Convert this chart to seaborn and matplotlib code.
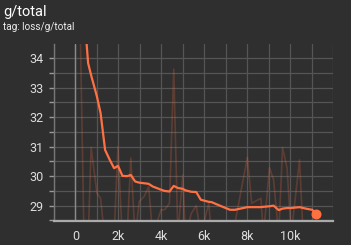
import matplotlib
matplotlib.use("Agg")
import matplotlib.pyplot as plt
import seaborn as sns
import numpy as np
import pandas as pd
from matplotlib.ticker import MultipleLocator, FuncFormatter

# ---- data ----
steps = [100, 400, 590, 730, 1000, 1170, 1380, 1600, 1800, 1980, 2190, 2400, 2580,
         2780, 2970, 3200, 3410, 3600, 3990, 4150, 4380, 4580, 4770, 5000, 5120,
         5400, 5630, 5840, 6210, 6340, 6730, 7200, 7430, 8010, 8210, 8640, 8760,
         9040, 9230, 9470, 9650, 9860, 10050, 10440, 10610, 10800, 11030, 11230]
raw = [40.0, 27.8, 27.8, 30.98, 29.42, 29.25, 27.8, 27.8, 28.0, 31.0, 27.8, 27.9, 30.61,
       27.9, 29.14, 29.31, 29.65, 28.0, 28.86, 28.86, 29.08, 33.63, 28.0, 30.04, 28.0,
       28.74, 29.0, 28.0, 29.08, 28.0, 28.0, 28.2, 28.4, 30.64, 29.08, 29.25, 28.0,
       30.29, 29.88, 28.0, 30.97, 30.27, 28.0, 30.55, 28.0, 28.3, 28.3, 28.2]
smooth = [40.0, 35.6, 33.83, 33.42, 32.7, 32.14, 30.89, 30.55, 30.27, 30.35, 30.01, 30.0, 30.04,
          29.82, 29.78, 29.76, 29.74, 29.65, 29.54, 29.5, 29.48, 29.67, 29.6, 29.57, 29.52,
          29.47, 29.46, 29.2, 29.13, 29.12, 29.0, 28.86, 28.86, 28.95, 28.95, 28.95, 28.96,
          28.98, 29.0, 28.85, 28.9, 28.92, 28.92, 28.95, 28.92, 28.89, 28.86, 28.72]

x_major = [0, 2000, 4000, 6000, 8000, 10000]
y_major = [29, 30, 31, 32, 33, 34]

df = pd.DataFrame({"step": steps, "raw": raw, "smooth": smooth})

BG = "#2f2f2f"
ORANGE = "#ff7043"

sns.set_theme(style="dark")
plt.rcParams["font.family"] = ["Roboto", "DejaVu Sans"]

fig = plt.figure(figsize=(3.51, 2.45), dpi=100, facecolor=BG)
ax = fig.add_axes([54/351, 24/245, (333-54)/351, (221-44)/245])
ax.set_facecolor(BG)

ax.set_xlim(-1000, 12000)
ax.set_ylim(28.48, 34.48)

# grid
ax.xaxis.set_major_locator(MultipleLocator(2000))
ax.xaxis.set_minor_locator(MultipleLocator(1000))
ax.yaxis.set_major_locator(MultipleLocator(1))
ax.yaxis.set_minor_locator(MultipleLocator(0.5))
ax.grid(True, which="both", color="#555555", linewidth=0.9)
ax.set_axisbelow(True)
ax.axvline(0, color="#8a8a8a", linewidth=1.0, zorder=1)

sns.lineplot(data=df, x="step", y="raw", ax=ax, color=ORANGE, alpha=0.22,
             linewidth=1.2, zorder=2)
sns.lineplot(data=df, x="step", y="smooth", ax=ax, color=ORANGE,
             linewidth=1.6, zorder=3)
ax.scatter([steps[-1]], [smooth[-1]], s=38, color=ORANGE, zorder=4, clip_on=False)

ax.set_xticks(x_major)
ax.set_yticks(y_major)
ax.xaxis.set_major_formatter(FuncFormatter(lambda v, p: "0" if v == 0 else f"{int(v/1000)}k"))
ax.yaxis.set_major_formatter(FuncFormatter(lambda v, p: f"{int(v)}"))
ax.set_xlabel("")
ax.set_ylabel("")

for s in ["top", "right"]:
    ax.spines[s].set_visible(False)
ax.spines["left"].set_color("#777777")
ax.spines["left"].set_linewidth(1.0)
ax.spines["bottom"].set_color("#aaaaaa")
ax.spines["bottom"].set_linewidth(1.6)

ax.tick_params(axis="both", which="both", colors="#999999", labelcolor="#dddddd",
               labelsize=9)
ax.tick_params(axis="x", which="both", direction="out", length=3.5, width=1, pad=3)
ax.tick_params(axis="y", which="both", direction="out", length=3.5, width=1, pad=4,
               left=True)

fig.text(3/351, 1 - 12/245, "g/total", color="#ffffff", fontsize=10.5,
         va="center", ha="left")
fig.text(3/351, 1 - 27/245, "tag: loss/g/total", color="#eeeeee", fontsize=7.2,
         va="center", ha="left")

fig.savefig("out.png", dpi=100, facecolor=BG)
